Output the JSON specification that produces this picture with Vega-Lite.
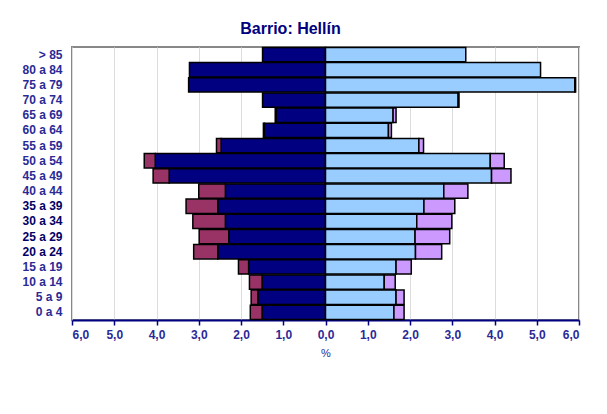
{
  "$schema": "https://vega.github.io/schema/vega-lite/v6.json",
  "autosize": {"type": "none"},
  "padding": {"left": 72, "top": 47, "right": 28, "bottom": 94},
  "width": 507,
  "height": 273,
  "background": "white",
  "title": {
    "text": "Barrio: Hellín",
    "font": "Liberation Sans",
    "fontSize": 16,
    "fontWeight": "bold",
    "color": "#000080",
    "anchor": "middle",
    "dx": -35,
    "offset": 10
  },
  "data": {
    "values": [
      {"edad": "> 85", "sexo": "H", "comp": "nat", "valor": -1.49},
      {"edad": "> 85", "sexo": "H", "comp": "ext", "valor": 0},
      {"edad": "> 85", "sexo": "M", "comp": "nat", "valor": 3.32},
      {"edad": "> 85", "sexo": "M", "comp": "ext", "valor": 0},
      {"edad": "80 a 84", "sexo": "H", "comp": "nat", "valor": -3.22},
      {"edad": "80 a 84", "sexo": "H", "comp": "ext", "valor": 0},
      {"edad": "80 a 84", "sexo": "M", "comp": "nat", "valor": 5.09},
      {"edad": "80 a 84", "sexo": "M", "comp": "ext", "valor": 0},
      {"edad": "75 a 79", "sexo": "H", "comp": "nat", "valor": -3.24},
      {"edad": "75 a 79", "sexo": "H", "comp": "ext", "valor": 0},
      {"edad": "75 a 79", "sexo": "M", "comp": "nat", "valor": 5.9},
      {"edad": "75 a 79", "sexo": "M", "comp": "ext", "valor": 0.02},
      {"edad": "70 a 74", "sexo": "H", "comp": "nat", "valor": -1.49},
      {"edad": "70 a 74", "sexo": "H", "comp": "ext", "valor": 0},
      {"edad": "70 a 74", "sexo": "M", "comp": "nat", "valor": 3.14},
      {"edad": "70 a 74", "sexo": "M", "comp": "ext", "valor": 0.02},
      {"edad": "65 a 69", "sexo": "H", "comp": "nat", "valor": -1.17},
      {"edad": "65 a 69", "sexo": "H", "comp": "ext", "valor": -0.02},
      {"edad": "65 a 69", "sexo": "M", "comp": "nat", "valor": 1.6},
      {"edad": "65 a 69", "sexo": "M", "comp": "ext", "valor": 0.07},
      {"edad": "60 a 64", "sexo": "H", "comp": "nat", "valor": -1.45},
      {"edad": "60 a 64", "sexo": "H", "comp": "ext", "valor": -0.02},
      {"edad": "60 a 64", "sexo": "M", "comp": "nat", "valor": 1.49},
      {"edad": "60 a 64", "sexo": "M", "comp": "ext", "valor": 0.07},
      {"edad": "55 a 59", "sexo": "H", "comp": "nat", "valor": -2.47},
      {"edad": "55 a 59", "sexo": "H", "comp": "ext", "valor": -0.11},
      {"edad": "55 a 59", "sexo": "M", "comp": "nat", "valor": 2.21},
      {"edad": "55 a 59", "sexo": "M", "comp": "ext", "valor": 0.11},
      {"edad": "50 a 54", "sexo": "H", "comp": "nat", "valor": -4.03},
      {"edad": "50 a 54", "sexo": "H", "comp": "ext", "valor": -0.26},
      {"edad": "50 a 54", "sexo": "M", "comp": "nat", "valor": 3.9},
      {"edad": "50 a 54", "sexo": "M", "comp": "ext", "valor": 0.33},
      {"edad": "45 a 49", "sexo": "H", "comp": "nat", "valor": -3.7},
      {"edad": "45 a 49", "sexo": "H", "comp": "ext", "valor": -0.38},
      {"edad": "45 a 49", "sexo": "M", "comp": "nat", "valor": 3.93},
      {"edad": "45 a 49", "sexo": "M", "comp": "ext", "valor": 0.46},
      {"edad": "40 a 44", "sexo": "H", "comp": "nat", "valor": -2.37},
      {"edad": "40 a 44", "sexo": "H", "comp": "ext", "valor": -0.63},
      {"edad": "40 a 44", "sexo": "M", "comp": "nat", "valor": 2.8},
      {"edad": "40 a 44", "sexo": "M", "comp": "ext", "valor": 0.57},
      {"edad": "35 a 39", "sexo": "H", "comp": "nat", "valor": -2.55},
      {"edad": "35 a 39", "sexo": "H", "comp": "ext", "valor": -0.75},
      {"edad": "35 a 39", "sexo": "M", "comp": "nat", "valor": 2.33},
      {"edad": "35 a 39", "sexo": "M", "comp": "ext", "valor": 0.73},
      {"edad": "30 a 34", "sexo": "H", "comp": "nat", "valor": -2.37},
      {"edad": "30 a 34", "sexo": "H", "comp": "ext", "valor": -0.77},
      {"edad": "30 a 34", "sexo": "M", "comp": "nat", "valor": 2.16},
      {"edad": "30 a 34", "sexo": "M", "comp": "ext", "valor": 0.83},
      {"edad": "25 a 29", "sexo": "H", "comp": "nat", "valor": -2.29},
      {"edad": "25 a 29", "sexo": "H", "comp": "ext", "valor": -0.7},
      {"edad": "25 a 29", "sexo": "M", "comp": "nat", "valor": 2.12},
      {"edad": "25 a 29", "sexo": "M", "comp": "ext", "valor": 0.82},
      {"edad": "20 a 24", "sexo": "H", "comp": "nat", "valor": -2.55},
      {"edad": "20 a 24", "sexo": "H", "comp": "ext", "valor": -0.57},
      {"edad": "20 a 24", "sexo": "M", "comp": "nat", "valor": 2.13},
      {"edad": "20 a 24", "sexo": "M", "comp": "ext", "valor": 0.62},
      {"edad": "15 a 19", "sexo": "H", "comp": "nat", "valor": -1.82},
      {"edad": "15 a 19", "sexo": "H", "comp": "ext", "valor": -0.24},
      {"edad": "15 a 19", "sexo": "M", "comp": "nat", "valor": 1.67},
      {"edad": "15 a 19", "sexo": "M", "comp": "ext", "valor": 0.36},
      {"edad": "10 a 14", "sexo": "H", "comp": "nat", "valor": -1.5},
      {"edad": "10 a 14", "sexo": "H", "comp": "ext", "valor": -0.3},
      {"edad": "10 a 14", "sexo": "M", "comp": "nat", "valor": 1.39},
      {"edad": "10 a 14", "sexo": "M", "comp": "ext", "valor": 0.26},
      {"edad": "5 a 9", "sexo": "H", "comp": "nat", "valor": -1.6},
      {"edad": "5 a 9", "sexo": "H", "comp": "ext", "valor": -0.16},
      {"edad": "5 a 9", "sexo": "M", "comp": "nat", "valor": 1.67},
      {"edad": "5 a 9", "sexo": "M", "comp": "ext", "valor": 0.19},
      {"edad": "0 a 4", "sexo": "H", "comp": "nat", "valor": -1.5},
      {"edad": "0 a 4", "sexo": "H", "comp": "ext", "valor": -0.28},
      {"edad": "0 a 4", "sexo": "M", "comp": "nat", "valor": 1.62},
      {"edad": "0 a 4", "sexo": "M", "comp": "ext", "valor": 0.24}
    ]
  },
  "transform": [
    {"filter": "datum.valor != 0"},
    {"calculate": "datum.sexo + ' ' + datum.comp", "as": "serie"}
  ],
  "mark": {"type": "bar", "stroke": "black", "strokeWidth": 1.5},
  "encoding": {
    "y": {
      "field": "edad",
      "type": "nominal",
      "sort": ["> 85", "80 a 84", "75 a 79", "70 a 74", "65 a 69", "60 a 64", "55 a 59", "50 a 54", "45 a 49", "40 a 44", "35 a 39", "30 a 34", "25 a 29", "20 a 24", "15 a 19", "10 a 14", "5 a 9", "0 a 4"],
      "scale": {"paddingInner": 0.06, "paddingOuter": 0.03},
      "axis": {
        "title": null,
        "domain": false,
        "ticks": false,
        "labelPadding": 10,
        "labelFont": "Liberation Sans",
        "labelFontSize": 12,
        "labelFontWeight": "bold",
        "labelColor": {
          "condition": {"test": "indexof(['35 a 39','30 a 34','25 a 29','20 a 24'], datum.value) >= 0", "value": "#000066"},
          "value": "#2a2a96"
        }
      }
    },
    "x": {
      "field": "valor",
      "type": "quantitative",
      "stack": "zero",
      "scale": {"domain": [-6, 6], "nice": false},
      "axis": {
        "title": "%",
        "values": [-6, -5, -4, -3, -2, -1, 0, 1, 2, 3, 4, 5, 6],
        "labelExpr": "replace(format(abs(datum.value), '.1f'), '.', ',')",
        "labelFont": "Liberation Sans",
        "labelFontSize": 12,
        "labelFontWeight": "bold",
        "labelColor": "#2a2a96",
        "labelPadding": 4,
        "domainColor": "#000080",
        "domainWidth": 2,
        "tickColor": "#000080",
        "tickWidth": 1.5,
        "tickSize": 5,
        "grid": true,
        "gridColor": "#dcdcdc",
        "gridWidth": 1,
        "titleFont": "Liberation Sans",
        "titleFontSize": 11,
        "titleFontWeight": "normal",
        "titleColor": "#2a2a96",
        "titlePadding": 7
      }
    },
    "color": {
      "field": "serie",
      "type": "nominal",
      "scale": {"domain": ["H nat", "H ext", "M nat", "M ext"], "range": ["#000080", "#993366", "#99ccff", "#cc99ff"]},
      "legend": null
    },
    "order": {"field": "comp", "sort": "descending"}
  },
  "config": {
    "view": {"stroke": "#888888", "strokeWidth": 2},
    "font": "Liberation Sans"
  }
}
